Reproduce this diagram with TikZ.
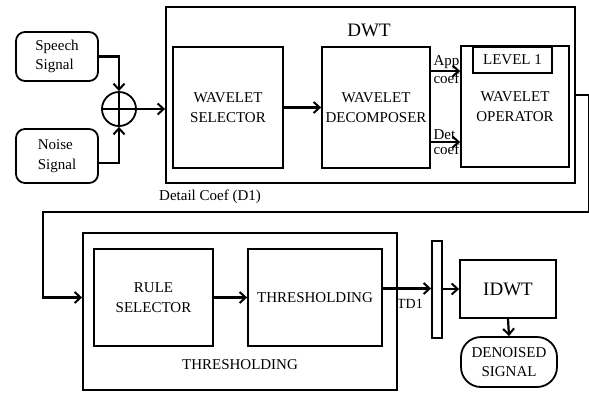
\documentclass[tikz,border=0pt]{standalone}
\usepackage{fontspec}
\setmainfont{Liberation Serif}
\usepackage{tikz}
\usetikzlibrary{arrows.meta, positioning, calc}
\newcommand{\blkfont}{\fontsize{15}{19.5}\selectfont}
\newcommand{\bigfont}{\fontsize{19}{22}\selectfont}
\tikzset{
  % Plain block
  blk/.style={
    rectangle, draw=black, line width=1.8pt,
    align=center, font=\blkfont, inner sep=2pt
  },
  % Rounded signal box
  sigbox/.style={blk, rounded corners=9pt, align=left},
  % Summing junction
  sumcirc/.style={circle, draw=black, line width=1.8pt, minimum size=34pt, inner sep=0pt},
  % Arrows
  arr/.style={-{Straight Barb[length=6pt,width=11pt,line width=2pt]}, line width=2.2pt},
  % Labels
  lbl/.style={font=\blkfont, inner sep=1pt},
}

\begin{document}
\begin{tikzpicture}[x=1pt, y=-1pt]
  \useasboundingbox (0,0) rectangle (589,392);

  % Inputs
  \node[sigbox, minimum width=82pt, minimum height=49pt] (speech) at (57,56.5) {Speech\\Signal};
  \node[sigbox, minimum width=82pt, minimum height=54pt] (noise) at (57,156) {Noise\\Signal};
  \node[sumcirc] (sum) at (119,109) {};
  \draw[line width=1.8pt] (sum.north) -- (sum.south) (sum.west) -- (sum.east);

  % DWT stage
  \node[blk, minimum width=409pt, minimum height=176pt] (dwt) at (370.5,95) {};
  \node[lbl, font=\bigfont] (dwtlbl) at (369,30) {DWT};
  \node[blk, minimum width=110pt, minimum height=121pt] (wsel) at (228,107.5) {WAVELET\\SELECTOR};
  \node[blk, minimum width=108pt, minimum height=121pt] (wdec) at (376,107.5) {WAVELET\\DECOMPOSER};
  \node[blk, minimum width=108pt, minimum height=121pt] (wop) at (515,106.5) {WAVELET\\OPERATOR};
  \node[blk, minimum width=79pt, minimum height=26pt] (lvl) at (512.5,60) {LEVEL 1};

  % Thresholding stage
  \node[blk, minimum width=314pt, minimum height=157pt] (thr) at (240,311.5) {};
  \node[lbl] (thrlbl) at (240,365) {THRESHOLDING};
  \node[blk, minimum width=119pt, minimum height=97pt] (rsel) at (153.5,297.5) {RULE\\SELECTOR};
  \node[blk, minimum width=134pt, minimum height=97pt] (thin) at (315,297.5) {THRESHOLDING};

  % Output side
  \node[blk, minimum width=10pt, minimum height=97pt, inner sep=0pt] (bar) at (437,289.5) {};
  \node[blk, font=\bigfont, minimum width=96pt, minimum height=58pt] (idwt) at (508,289) {IDWT};
  \node[blk, rounded corners=20pt, minimum width=96pt, minimum height=50pt] (den) at (509,362) {DENOISED\\SIGNAL};

  % Connectors
  \draw[arr] (speech.east) -| (sum.north);
  \draw[arr] ([yshift=-7pt]noise.east) -| (sum.south);
  \draw[arr] (sum.east) -- (sum.east -| dwt.west);
  \draw[arr] (wsel.east) -- (wdec.west);
  \draw[arr] ([yshift=36.5pt]wdec.east) -- ([yshift=36.5pt]wdec.east -| wop.west)
    node[lbl, anchor=south west, pos=0.02] (app) {App}
    node[lbl, anchor=north west, pos=0.02] (appc) {coef};
  \draw[arr] ([yshift=-34.5pt]wdec.east) -- ([yshift=-34.5pt]wdec.east -| wop.west)
    node[lbl, anchor=south west, pos=0.02] (det) {Det}
    node[lbl, anchor=north west, pos=0.02] (detc) {coef};

  % Feedback to thresholding
  \coordinate (fb) at (43,212);
  \draw[arr] (dwt.east) -- ++(13,0) |- (fb) |- (rsel.west -| thr.west);
  \node[lbl] (d1lbl) at (210,197) {Detail Coef (D1)};

  \draw[arr] (rsel.east) -- (thin.west);
  \draw[arr] ([yshift=9pt]thin.east) -- ([yshift=9pt]thin.east -| bar.west);
  \node[lbl, font=\fontsize{14}{16}\selectfont] (td) at (410,304) {TD1};
  \draw[arr] (bar.east |- idwt.west) -- (idwt.west);
  \draw[arr] (idwt.south) -- (den.north);
\end{tikzpicture}
\end{document}
